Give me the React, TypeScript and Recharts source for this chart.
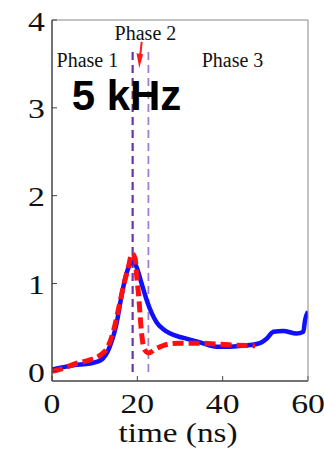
import React from 'react';
import { LineChart, Line, XAxis, YAxis, ReferenceLine, ReferenceDot } from 'recharts';

const blueTime = [0, 2, 5, 8.9, 11.2, 12.0, 13.0, 13.6, 14.5, 15.2, 16.0, 16.8, 17.5, 18.2, 18.9, 19.8, 21.0, 22.2, 23.4, 24.5, 26.1, 27.7, 30.8, 34.7, 38.6, 41.7, 44.5, 46.4, 48.7, 50.3, 51.9, 54.2, 57.3, 58.9, 59.3, 60];
const blueVals = [0.02, 0.04, 0.07, 0.09, 0.12, 0.15, 0.22, 0.29, 0.42, 0.56, 0.78, 0.98, 1.12, 1.21, 1.25, 1.19, 1.0, 0.81, 0.66, 0.56, 0.48, 0.43, 0.38, 0.33, 0.28, 0.28, 0.29, 0.30, 0.32, 0.37, 0.45, 0.46, 0.43, 0.45, 0.58, 0.68];

const redTime = [0, 3, 5, 8.9, 11.2, 13.2, 14.4, 15.5, 16.7, 17.9, 18.8, 19.5, 19.8, 20.4, 20.8, 21.2, 21.8, 22.6, 24.5, 27.3, 30, 34.7, 38.6, 42.5, 47.6];
const redVals = [0.0, 0.04, 0.08, 0.13, 0.18, 0.29, 0.46, 0.69, 0.96, 1.19, 1.34, 1.28, 1.11, 0.81, 0.54, 0.35, 0.24, 0.21, 0.26, 0.31, 0.32, 0.32, 0.31, 0.30, 0.29];

const xTicks = [0, 20, 40, 60];
const yTicks = [0, 1, 2, 3, 4];
const phaseLines = [18.9, 22.6];
const xLabel = 'time (ns)';
const title = '5 kHz';
const phases = [
  { name: 'Phase 1', t: 8.3, v: 3.464 },
  { name: 'Phase 2', t: 21.9, v: 3.772 },
  { name: 'Phase 3', t: 42.3, v: 3.464 },
];
const titlePos = { t: 17.46, v: 2.974 };
const arrowTip = { t: 20.46, v: 3.45 };

const blueData = blueTime.map((t, i) => ({ t, v: blueVals[i] }));
const redData = redTime.map((t, i) => ({ t, v: redVals[i] }));

const SERIF = '"Liberation Serif", "DejaVu Serif", serif';

const YTick = (props: any) => {
  const { x, y, payload } = props;
  return (
    <text transform={`translate(${x},${y}) scale(1.25,1)`} textAnchor="end" dy={10.5} fontFamily={SERIF} fontSize={27} fill="#111">
      {payload.value}
    </text>
  );
};

const XTick = (props: any) => {
  const { x, y, payload } = props;
  return (
    <text transform={`translate(${x},${y}) scale(1.25,1)`} textAnchor="middle" dy={18} fontFamily={SERIF} fontSize={27} fill="#111">
      {payload.value}
    </text>
  );
};

const XLabel = (props: any) => {
  const vb = props.viewBox || { x: 52, y: 381, width: 256, height: 72 };
  const cx = vb.x + vb.width / 2 - 2;
  return (
    <text transform={`translate(${cx},442) scale(1.23,1)`} textAnchor="middle" fontFamily={SERIF} fontSize={27} fill="#111">
      {xLabel}
    </text>
  );
};

export default function App() {
  return (
    <div style={{ position: 'absolute', left: 0, top: 0, width: 324, height: 453, background: '#fff' }}>
      <LineChart width={324} height={453} margin={{ top: 0, right: 0, bottom: 0, left: 0 }}>
        <XAxis
          dataKey="t"
          type="number"
          domain={[0, 60]}
          ticks={xTicks}
          allowDataOverflow
          height={72}
          tickSize={-5}
          tickMargin={19}
          tick={<XTick />}
          axisLine={{ stroke: '#444', strokeWidth: 1.5 }}
          tickLine={{ stroke: '#444' }}
          label={<XLabel />}
        />
        <XAxis
          xAxisId="top"
          orientation="top"
          dataKey="t"
          type="number"
          domain={[0, 60]}
          ticks={xTicks}
          height={20}
          tickSize={-5}
          tick={false}
          axisLine={{ stroke: '#888' }}
          tickLine={{ stroke: '#888' }}
        />
        <YAxis
          type="number"
          domain={[-0.11, 4]}
          ticks={yTicks}
          allowDataOverflow
          width={52}
          tickSize={-5}
          tickMargin={12}
          tick={<YTick />}
          axisLine={{ stroke: '#444', strokeWidth: 1.5 }}
          tickLine={{ stroke: '#444' }}
        />
        <YAxis
          yAxisId="right"
          orientation="right"
          type="number"
          domain={[-0.11, 4]}
          ticks={yTicks}
          allowDataOverflow
          width={16}
          tickSize={-5}
          tick={false}
          axisLine={{ stroke: '#888' }}
          tickLine={{ stroke: '#888' }}
        />
        <ReferenceLine
          segment={[{ x: phaseLines[0], y: 3.635 }, { x: phaseLines[0], y: -0.02 }]}
          stroke="#6a35a8"
          strokeWidth={2.2}
          strokeDasharray="8 5"
        />
        <ReferenceLine
          segment={[{ x: phaseLines[1], y: 3.635 }, { x: phaseLines[1], y: -0.02 }]}
          stroke="#a27fd2"
          strokeWidth={1.8}
          strokeDasharray="8 5"
        />
        <Line data={blueData} dataKey="v" type="monotone" stroke="#1010ff" strokeWidth={4.5} dot={false} isAnimationActive={false} />
        <Line data={redData} dataKey="v" type="monotone" stroke="#ff1010" strokeWidth={5} strokeDasharray="11 5" dot={false} isAnimationActive={false} />
        {phases.map((p) => (
          <ReferenceDot
            key={p.name}
            x={p.t}
            y={p.v}
            r={0}
            shape={(sp: any) => (
              <text x={sp.cx} y={sp.cy} textAnchor="middle" fontFamily={SERIF} fontSize={20} fill="#111">
                {p.name}
              </text>
            )}
          />
        ))}
        <ReferenceDot
          x={titlePos.t}
          y={titlePos.v}
          r={0}
          shape={(sp: any) => (
            <text x={sp.cx} y={sp.cy} textAnchor="middle" fontFamily='"Liberation Sans", Arial, sans-serif' fontWeight="bold" fontSize={42} fill="#000">
              {title}
            </text>
          )}
        />
        <ReferenceDot
          x={arrowTip.t}
          y={arrowTip.v}
          r={0}
          shape={(sp: any) => (
            <g>
              <line x1={sp.cx + 2.4} y1={sp.cy - 26.5} x2={sp.cx + 0.8} y2={sp.cy - 12} stroke="#ff1a1a" strokeWidth={2} />
              <polygon points={`${sp.cx},${sp.cy} ${sp.cx - 2.8},${sp.cy - 15} ${sp.cx + 3.8},${sp.cy - 14}`} fill="#ff1a1a" />
            </g>
          )}
        />
      </LineChart>
    </div>
  );
}
